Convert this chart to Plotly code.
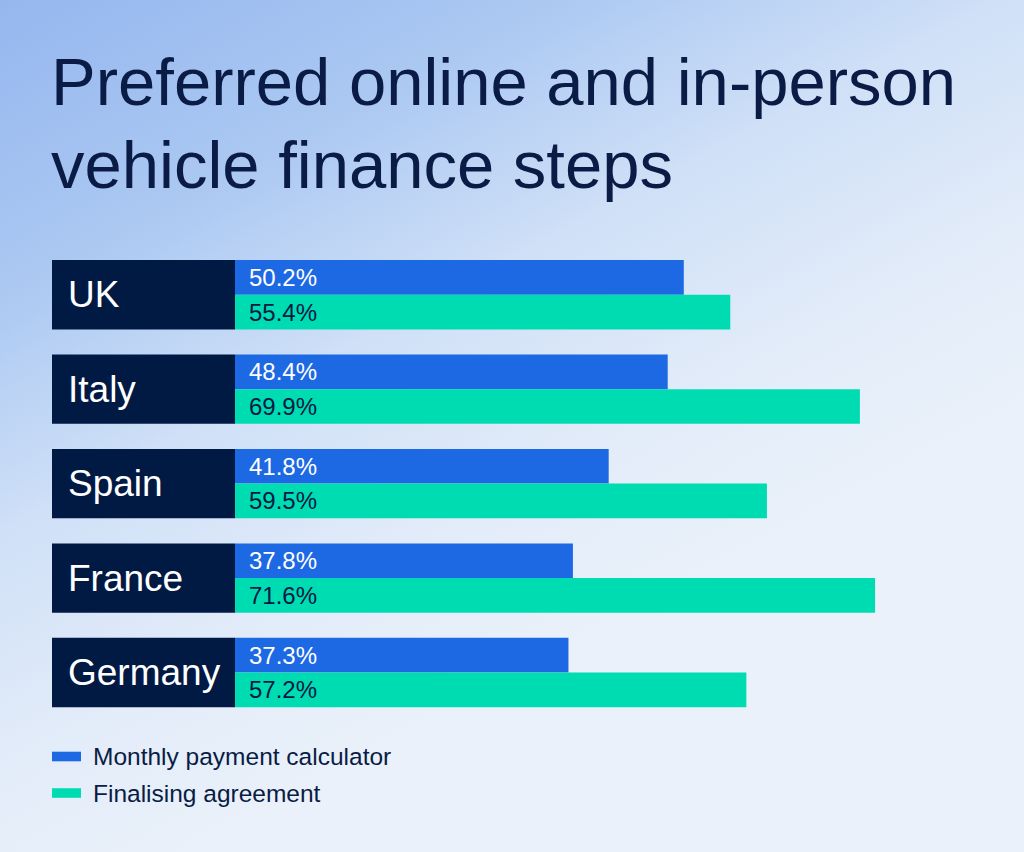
import base64
import plotly.graph_objects as go

# data
countries = ["UK", "Italy", "Spain", "France", "Germany"]
calculator = [50.2, 48.4, 41.8, 37.8, 37.3]
agreement = [55.4, 69.9, 59.5, 71.6, 57.2]
series_names = ["Monthly payment calculator", "Finalising agreement"]
title_lines = ["Preferred online and in-person", "vehicle finance steps"]

W, H = 1024, 852
NAVY = "#011a44"
BLUE = "#1d69e3"
GREEN = "#00dcb2"
TITLE_COL = "#0a1c45"
FONT = "Liberation Sans"


def px_x(p):
    return p / W


def px_y(p):
    return 1 - p / H


# soft blue gradient behind everything (bluest in the top left corner)
bg_svg = """<svg xmlns='http://www.w3.org/2000/svg' width='1024' height='852'>
<defs><linearGradient id='g' gradientUnits='userSpaceOnUse' x1='100' y1='-50' x2='500' y2='700'>
<stop offset='0' stop-color='#95b7ef'/>
<stop offset='0.3' stop-color='#abc8f2'/>
<stop offset='0.55' stop-color='#cfe0f7'/>
<stop offset='0.8' stop-color='#e3ecf9'/>
<stop offset='1' stop-color='#eaf1fa'/>
</linearGradient></defs>
<rect width='1024' height='852' fill='url(#g)'/></svg>"""
bg_src = "data:image/svg+xml;base64," + base64.b64encode(bg_svg.encode()).decode()

fig = go.Figure()
fig.add_trace(go.Bar(y=countries, x=calculator, orientation="h", name=series_names[0],
                     marker=dict(color=BLUE, line=dict(width=0)), hoverinfo="x+y"))
fig.add_trace(go.Bar(y=countries, x=agreement, orientation="h", name=series_names[1],
                     marker=dict(color=GREEN, line=dict(width=0)), hoverinfo="x+y"))

shapes = []
annotations = []

# navy country boxes + labels
half = (1 - 0.266) / 2
for i, c in enumerate(countries):
    shapes.append(dict(type="rect", xref="paper", yref="y", x0=px_x(52), x1=px_x(235),
                       y0=i - half, y1=i + half, fillcolor=NAVY, line=dict(width=0), layer="above"))
    annotations.append(dict(text=c, xref="paper", yref="y", x=px_x(66), y=c, xanchor="left",
                            yanchor="middle", showarrow=False,
                            font=dict(family=FONT, size=37, color="white")))

# value labels at the start of each bar
for c, v1, v2 in zip(countries, calculator, agreement):
    annotations.append(dict(text=f"{v1}%", x=0, y=c, xshift=12, yshift=17.3, xanchor="left",
                            yanchor="middle", showarrow=False,
                            font=dict(family=FONT, size=24, color="white")))
    annotations.append(dict(text=f"{v2}%", x=0, y=c, xshift=12, yshift=-17.3, xanchor="left",
                            yanchor="middle", showarrow=False,
                            font=dict(family=FONT, size=24, color=NAVY)))

# title, two lines
for line, yc in zip(title_lines, [82, 164]):
    annotations.append(dict(text=line, xref="paper", yref="paper", x=px_x(49), y=px_y(yc),
                            xanchor="left", yanchor="middle", showarrow=False,
                            font=dict(family=FONT, size=67, color=TITLE_COL)))

# hand-made legend with wide swatches
for name, col, yc in zip(series_names, [BLUE, GREEN], [756.5, 793]):
    shapes.append(dict(type="rect", xref="paper", yref="paper", x0=px_x(52), x1=px_x(81),
                       y0=px_y(yc - 4.8), y1=px_y(yc + 4.8), fillcolor=col, line=dict(width=0)))
    annotations.append(dict(text=name, xref="paper", yref="paper", x=px_x(91), y=px_y(yc),
                            xanchor="left", yanchor="middle", showarrow=False,
                            font=dict(family=FONT, size=24.5, color=TITLE_COL)))

fig.update_layout(
    width=W, height=H,
    margin=dict(l=0, r=0, t=0, b=0),
    paper_bgcolor="#e6eef9",
    plot_bgcolor="rgba(0,0,0,0)",
    barmode="group", bargap=0.266, bargroupgap=0,
    showlegend=False,
    xaxis=dict(domain=[px_x(235), 1], range=[0, 789 / 8.94], visible=False, fixedrange=True),
    yaxis=dict(domain=[px_y(719.7), px_y(247.5)], range=[4.5, -0.5], visible=False, fixedrange=True),
    shapes=shapes,
    annotations=annotations,
    images=[dict(source=bg_src, xref="paper", yref="paper", x=0, y=1, sizex=1, sizey=1,
                 sizing="stretch", xanchor="left", yanchor="top", layer="below")],
)

# page body has a default 8px margin, drop it so the figure fills the window
fig.write_html("out.html", config={"displayModeBar": False},
               post_script="document.body.style.margin='0';")
